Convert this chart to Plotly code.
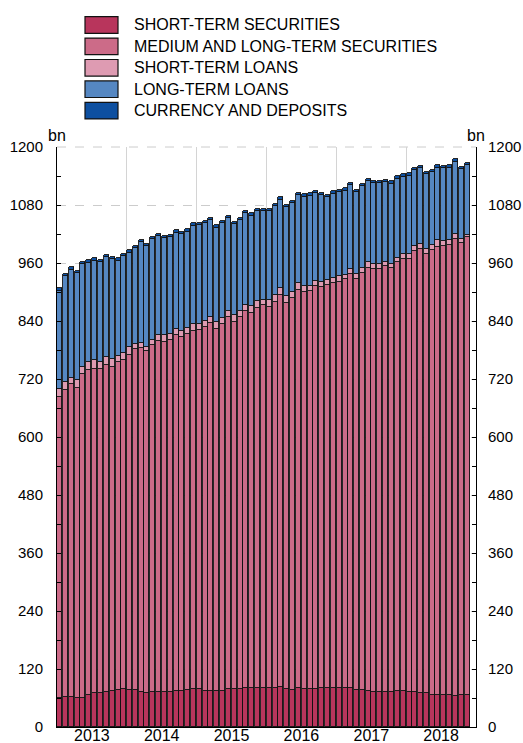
import plotly.graph_objects as go

# ---------------- data (bn) ----------------
months = [f"{y}-{m:02d}-01" for y in range(2013, 2019) for m in range(1, 13)][:71]

short_term_securities = [
    59.2, 62.7, 61.3, 59.9, 59.9, 66.1, 69.6, 70.3, 73.0, 75.1, 77.2, 78.6,
    77.2, 77.2, 73.0, 70.3, 71.7, 73.0, 73.0, 73.0, 74.4, 74.4, 75.8, 77.9,
    79.2, 75.1, 74.4, 73.7, 75.1, 77.9, 79.2, 79.2, 80.0, 80.0, 80.6, 80.6,
    80.6, 80.6, 82.0, 78.6, 76.5, 79.9, 78.6, 78.6, 78.6, 81.0, 81.3, 81.0,
    81.3, 81.0, 79.9, 76.5, 76.5, 75.1, 71.7, 71.7, 71.7, 71.7, 74.4, 74.4,
    73.0, 73.0, 69.6, 69.6, 66.1, 66.1, 66.1, 66.1, 64.8, 66.8, 66.8]

medium_long_term_securities = [
    624.2, 635.2, 647.6, 640.7, 669.7, 671.8, 670.3, 669.6, 675.2, 670.4, 677.2, 681.4,
    693.1, 704.1, 710.4, 706.9, 718.6, 726.2, 724.2, 728.3, 736.6, 731.8, 737.2, 742.0,
    742.1, 752.4, 760.7, 750.4, 758.6, 769.6, 758.7, 769.0, 780.6, 776.5, 786.9, 791.8,
    789.0, 799.3, 811.7, 798.6, 810.4, 824.2, 821.3, 823.4, 834.4, 828.6, 833.8, 836.9,
    838.7, 845.8, 856.6, 851.0, 862.7, 874.5, 875.2, 875.9, 881.4, 877.2, 888.3, 894.5,
    895.9, 911.8, 919.3, 908.9, 921.4, 927.6, 928.3, 931.8, 944.1, 933.8, 946.3]

short_term_loans = [
    15.9, 15.8, 13.8, 16.6, 15.2, 17.2, 18.6, 15.9, 17.3, 16.5, 13.8, 13.7,
    15.1, 11.7, 11.7, 9.6, 10.3, 12.5, 13.1, 11.7, 12.4, 12.3, 12.4, 14.5,
    13.1, 12.4, 13.1, 13.8, 13.1, 13.1, 14.5, 12.4, 13.1, 13.8, 13.8, 11.7,
    13.1, 14.5, 15.2, 14.5, 12.4, 14.5, 12.5, 10.4, 9.7, 11.0, 9.0, 11.0,
    13.4, 7.6, 11.7, 9.7, 10.4, 12.4, 11.0, 10.3, 8.9, 9.7, 7.6, 9.6,
    10.4, 10.3, 9.6, 10.4, 9.7, 13.1, 11.8, 10.3, 11.0, 9.0, 4.1]

long_term_loans = [
    203.2, 219.1, 223.3, 221.2, 212.9, 205.9, 206.5, 206.0, 206.5, 205.4, 196.4, 200.6,
    195.6, 197.8, 207.4, 208.2, 208.2, 204.3, 200.5, 200.6, 199.6, 201.3, 199.6, 202.6,
    203.3, 201.9, 199.8, 195.0, 195.0, 192.3, 187.4, 188.1, 188.8, 187.4, 186.1, 183.3,
    184.7, 183.3, 181.9, 183.9, 184.6, 181.9, 184.6, 186.7, 181.2, 179.9, 172.2, 174.3,
    173.6, 175.0, 172.3, 169.5, 168.8, 166.7, 166.7, 166.7, 164.7, 165.3, 164.0, 159.9,
    161.1, 156.4, 157.1, 155.0, 150.9, 150.2, 149.4, 148.8, 149.5, 144.6, 145.3]

currency_and_deposits = [
    5, 5, 5, 5, 5, 5, 5, 5, 5, 5, 5, 5,
    5, 5, 5, 5, 5, 5, 5, 5, 5, 5, 5, 5,
    5, 5, 5, 5, 5, 5, 5, 5, 5, 5, 5, 5,
    5, 5, 5, 5, 5, 5, 5, 5, 5, 5, 5, 5,
    5, 5, 5, 5, 5, 5, 5, 5, 5, 5, 5, 5,
    5, 5, 5, 5, 5, 5, 5, 5, 5, 5, 5]

series_names = ["SHORT-TERM SECURITIES", "MEDIUM AND LONG-TERM SECURITIES",
                "SHORT-TERM LOANS", "LONG-TERM LOANS", "CURRENCY AND DEPOSITS"]
series_values = [short_term_securities, medium_long_term_securities,
                 short_term_loans, long_term_loans, currency_and_deposits]
colors = ["#B8355C", "#CC6B88", "#DE9BB2", "#5587C2", "#0D4FA0"]

y_ticks = list(range(0, 1201, 120))

# ---------------- figure ----------------
FONT = "Liberation Sans, Arial, Helvetica, sans-serif"
W, H = 523, 743
L, R, T, B = 57, 47, 147, 16
PW, PH = W - L - R, H - T - B

fig = go.Figure()
bar_width_ms = 0.86 * 30.44 * 86400000
for name, vals, col in zip(series_names, series_values, colors):
    fig.add_trace(go.Bar(
        x=months, y=vals, name=name,
        marker=dict(color=col, line=dict(color="#111111", width=0.9)),
        xperiod="M1", xperiodalignment="middle",
        width=bar_width_ms, showlegend=False,
    ))

yaxis_common = dict(
    range=[0, 1200], tickvals=y_ticks, ticktext=[str(v) for v in y_ticks],
    ticks="inside", ticklen=4, tickcolor="#000000",
    minor=dict(dtick=60, tick0=0, ticks="inside", ticklen=4, tickcolor="#000000"),
    showline=True, linecolor="#000000", linewidth=1,
    tickfont=dict(family=FONT, size=15, color="#000000"),
    zeroline=False, fixedrange=True,
)
fig.update_layout(
    width=W, height=H,
    margin=dict(l=L, r=R, t=T, b=B, autoexpand=False),
    paper_bgcolor="white", plot_bgcolor="white",
    barmode="stack", bargap=0,
    font=dict(family=FONT, size=16, color="#000000"),
    xaxis=dict(
        type="date", range=["2013-01-01", "2019-01-01"],
        dtick="M12", tick0="2013-01-01", ticklabelmode="period", tickformat="%Y",
        showgrid=True, gridcolor="#d4d4d4", gridwidth=1,
        showline=True, linecolor="#000000", linewidth=1.2,
        ticks="", tickfont=dict(family=FONT, size=16, color="#000000"),
        automargin=False, ticklabelstandoff=-6, fixedrange=True,
    ),
    yaxis=dict(**yaxis_common, side="left", showgrid=True,
               gridcolor="#cccccc", griddash="dash", gridwidth=1,
               automargin=False, ticklabelstandoff=10),
    yaxis2=dict(**yaxis_common, side="right", overlaying="y", anchor="x",
                showgrid=False, automargin=False, ticklabelstandoff=8),
)

# dummy invisible trace to activate the right axis
fig.add_trace(go.Scatter(x=[months[0]], y=[0], yaxis="y2", mode="markers",
                         marker=dict(opacity=0), showlegend=False, hoverinfo="skip"))

# dashed top gridline at the upper range limit
fig.add_shape(type="line", xref="paper", yref="paper", x0=0, x1=1, y0=1, y1=1,
              line=dict(color="#cccccc", width=1, dash="dash"), layer="below")


def px_x(px):  # page pixel -> paper x
    return (px - L) / PW


def px_y(py):  # page pixel -> paper y
    return (H - B - py) / PH


# "bn" unit labels
for xp in (0, 1):
    fig.add_annotation(text="bn", xref="paper", yref="paper", x=xp,
                       y=px_y(136), xanchor="center", yanchor="middle",
                       showarrow=False, font=dict(family=FONT, size=16))

# custom legend (swatch 33x17 px, rows ~21.4 px apart)
for i, (name, col) in enumerate(zip(series_names, colors)):
    top = 16.7 + i * 21.4
    bot = top + 16.6
    fig.add_shape(type="rect", xref="paper", yref="paper",
                  x0=px_x(85), x1=px_x(118), y0=px_y(bot), y1=px_y(top),
                  fillcolor=col, line=dict(color="#111111", width=1.2))
    fig.add_annotation(text=name, xref="paper", yref="paper",
                       x=px_x(132), y=px_y((top + bot) / 2),
                       xanchor="left", yanchor="middle", showarrow=False,
                       font=dict(family=FONT, size=16, color="#000000"))

fig.write_html(
    "out.html",
    config={"displayModeBar": False},
    post_script="document.body.style.margin='0';"
                "document.body.style.overflow='hidden';",
)
